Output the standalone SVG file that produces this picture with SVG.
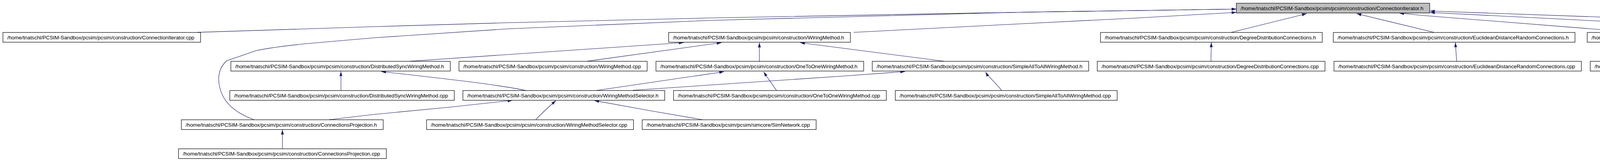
<svg xmlns="http://www.w3.org/2000/svg" width="5800" height="413" viewBox="0 0 5800 413">
<style>
.n rect{fill:#ffffff;stroke:#000000;stroke-width:1.2}
.root rect{fill:#bfbfbf}
text{font-family:"Liberation Sans",Arial,Helvetica,sans-serif;font-size:13.4px;fill:#000000}
#edges path{fill:none;stroke:#191970;stroke-width:1.1;marker-end:url(#arr)}
</style>
<defs>
<marker id="arr" markerUnits="userSpaceOnUse" markerWidth="12" markerHeight="8" viewBox="0 0 12 8" refX="12" refY="4" orient="auto">
<path d="M0,0.3 L12,4 L0,7.7 z" fill="#191970"/>
</marker>
</defs>
<rect width="5800" height="413" fill="#ffffff"/>
<g id="edges">
<path d="M505,83 L960,68.3 L1300,58.3 L1820,46 L2620,31.2 L3165,23.3"/>
<path d="M650,307 C612,293 583,272 570,245 C556,215 554,180 580,156 L657,129.5 C700,121 760,114 807,110 L960,96.7 L1300,74 L1820,52.3 L2620,31.2 L3165,23.3"/>
<path d="M2185,83 L2620,60.7 L2900,46.7 L3165,31.7"/>
<path d="M3152,83 L3345,35"/>
<path d="M3671,83 L3473,35"/>
<path d="M4187,83 L3640,39.5 L3582,33.5"/>
<path d="M5210,83 L3661,28.3"/>
<path d="M4660,83 L4350,68.3 L4160,57.3 L3661,32"/>
<path d="M3100,157 L3101,109"/>
<path d="M3729,157 L3725.7,109"/>
<path d="M4350.7,157 C4347,135 4345,120 4343,109"/>
<path d="M4918,157 C4914,135 4911,120 4909,109"/>
<path d="M5500,157 L5498,109"/>
<path d="M1050,157 L1750,109.3"/>
<path d="M1503,157 L1847,109.5"/>
<path d="M1944,157 L1944,109.5"/>
<path d="M2416,157 L2048.5,109.5"/>
<path d="M873,232 L872.7,183.5"/>
<path d="M1346,232 C1280,218 1150,203 976,183.5"/>
<path d="M1527,232 L1853.3,184"/>
<path d="M1620,231.5 L2160,195 L2317,183.5"/>
<path d="M1987.7,232 C1975,213 1963,197 1955,184.5"/>
<path d="M2564,232 C2550,213 2530,197 2523,184.5"/>
<path d="M843,307 L960,293.3 L1150,275 L1311.7,257.5"/>
<path d="M1371.7,307 C1385,292 1405,274 1423,258"/>
<path d="M1798,307 L1670,285 L1521.7,258"/>
<path d="M723,382 L723,333"/>
</g>
<g id="n0" class="n root"><rect x="3165" y="8.3" width="495" height="25"/><text x="3176" y="25.6" textLength="468" lengthAdjust="spacing">/home/tnatschl/PCSIM-Sandbox/pcsim/pcsim/construction/ConnectionIterator.h</text></g>
<g id="n1" class="n"><rect x="7.5" y="83.3" width="506" height="25"/><text x="18.5" y="100.6" textLength="479" lengthAdjust="spacing">/home/tnatschl/PCSIM-Sandbox/pcsim/pcsim/construction/ConnectionIterator.cpp</text></g>
<g id="n2" class="n"><rect x="1711.7" y="83.3" width="465.3" height="25"/><text x="1722.7" y="100.6" textLength="438.3" lengthAdjust="spacing">/home/tnatschl/PCSIM-Sandbox/pcsim/pcsim/construction/WiringMethod.h</text></g>
<g id="n3" class="n"><rect x="2817.3" y="83.3" width="567.7" height="25"/><text x="2828.3" y="100.6" textLength="540.7" lengthAdjust="spacing">/home/tnatschl/PCSIM-Sandbox/pcsim/pcsim/construction/DegreeDistributionConnections.h</text></g>
<g id="n4" class="n"><rect x="3413.3" y="83.3" width="618.7" height="25"/><text x="3424.3" y="100.6" textLength="591.7" lengthAdjust="spacing">/home/tnatschl/PCSIM-Sandbox/pcsim/pcsim/construction/EuclideanDistanceRandomConnections.h</text></g>
<g id="n5" class="n"><rect x="4063.3" y="83.3" width="551.7" height="25"/><text x="4074.3" y="100.6" textLength="524.7" lengthAdjust="spacing">/home/tnatschl/PCSIM-Sandbox/pcsim/pcsim/construction/PredicateBasedConnections.h</text></g>
<g id="n6" class="n"><rect x="4652" y="83.3" width="508" height="25"/><text x="4663" y="100.6" textLength="481" lengthAdjust="spacing">/home/tnatschl/PCSIM-Sandbox/pcsim/pcsim/construction/RandomConnections.h</text></g>
<g id="n7" class="n"><rect x="5211" y="83.3" width="574" height="25"/><text x="5222" y="100.6" textLength="547" lengthAdjust="spacing">/home/tnatschl/PCSIM-Sandbox/pcsim/pcsim/construction/RandomFixNumberConnections.h</text></g>
<g id="n8" class="n"><rect x="591" y="157.3" width="561.7" height="25"/><text x="602" y="174.6" textLength="534.7" lengthAdjust="spacing">/home/tnatschl/PCSIM-Sandbox/pcsim/pcsim/construction/DistributedSyncWiringMethod.h</text></g>
<g id="n9" class="n"><rect x="1175" y="157.3" width="481.7" height="25"/><text x="1186" y="174.6" textLength="454.7" lengthAdjust="spacing">/home/tnatschl/PCSIM-Sandbox/pcsim/pcsim/construction/WiringMethod.cpp</text></g>
<g id="n10" class="n"><rect x="1679.3" y="157.3" width="531.7" height="25"/><text x="1690.3" y="174.6" textLength="504.7" lengthAdjust="spacing">/home/tnatschl/PCSIM-Sandbox/pcsim/pcsim/construction/OneToOneWiringMethod.h</text></g>
<g id="n11" class="n"><rect x="2233" y="157.3" width="554" height="25"/><text x="2244" y="174.6" textLength="527" lengthAdjust="spacing">/home/tnatschl/PCSIM-Sandbox/pcsim/pcsim/construction/SimpleAllToAllWiringMethod.h</text></g>
<g id="n12" class="n"><rect x="2809" y="157.3" width="583" height="25"/><text x="2820" y="174.6" textLength="556" lengthAdjust="spacing">/home/tnatschl/PCSIM-Sandbox/pcsim/pcsim/construction/DegreeDistributionConnections.cpp</text></g>
<g id="n13" class="n"><rect x="3415" y="157.3" width="633.3" height="25"/><text x="3426" y="174.6" textLength="606.3" lengthAdjust="spacing">/home/tnatschl/PCSIM-Sandbox/pcsim/pcsim/construction/EuclideanDistanceRandomConnections.cpp</text></g>
<g id="n14" class="n"><rect x="4071" y="157.3" width="565" height="25"/><text x="4082" y="174.6" textLength="538" lengthAdjust="spacing">/home/tnatschl/PCSIM-Sandbox/pcsim/pcsim/construction/PredicateBasedConnections.cpp</text></g>
<g id="n15" class="n"><rect x="4660" y="157.3" width="523" height="25"/><text x="4671" y="174.6" textLength="496" lengthAdjust="spacing">/home/tnatschl/PCSIM-Sandbox/pcsim/pcsim/construction/RandomConnections.cpp</text></g>
<g id="n16" class="n"><rect x="5207" y="157.3" width="588" height="25"/><text x="5218" y="174.6" textLength="561" lengthAdjust="spacing">/home/tnatschl/PCSIM-Sandbox/pcsim/pcsim/construction/RandomFixNumberConnections.cpp</text></g>
<g id="n17" class="n"><rect x="588.3" y="232.3" width="574.7" height="25"/><text x="599.3" y="249.6" textLength="547.7" lengthAdjust="spacing">/home/tnatschl/PCSIM-Sandbox/pcsim/pcsim/construction/DistributedSyncWiringMethod.cpp</text></g>
<g id="n18" class="n"><rect x="1185" y="232.3" width="516.7" height="25"/><text x="1196" y="249.6" textLength="489.7" lengthAdjust="spacing">/home/tnatschl/PCSIM-Sandbox/pcsim/pcsim/construction/WiringMethodSelector.h</text></g>
<g id="n19" class="n"><rect x="1724.3" y="232.3" width="544.7" height="25"/><text x="1735.3" y="249.6" textLength="517.7" lengthAdjust="spacing">/home/tnatschl/PCSIM-Sandbox/pcsim/pcsim/construction/OneToOneWiringMethod.cpp</text></g>
<g id="n20" class="n"><rect x="2292" y="232.3" width="568" height="25"/><text x="2303" y="249.6" textLength="541" lengthAdjust="spacing">/home/tnatschl/PCSIM-Sandbox/pcsim/pcsim/construction/SimpleAllToAllWiringMethod.cpp</text></g>
<g id="n21" class="n"><rect x="464.3" y="307.3" width="516.7" height="25"/><text x="475.3" y="324.6" textLength="489.7" lengthAdjust="spacing">/home/tnatschl/PCSIM-Sandbox/pcsim/pcsim/construction/ConnectionsProjection.h</text></g>
<g id="n22" class="n"><rect x="1092" y="307.3" width="529.7" height="25"/><text x="1103" y="324.6" textLength="502.7" lengthAdjust="spacing">/home/tnatschl/PCSIM-Sandbox/pcsim/pcsim/construction/WiringMethodSelector.cpp</text></g>
<g id="n23" class="n"><rect x="1644" y="307.3" width="445.3" height="25"/><text x="1655" y="324.6" textLength="418.3" lengthAdjust="spacing">/home/tnatschl/PCSIM-Sandbox/pcsim/pcsim/simcore/SimNetwork.cpp</text></g>
<g id="n24" class="n"><rect x="457" y="381.7" width="532" height="25"/><text x="468" y="399" textLength="505" lengthAdjust="spacing">/home/tnatschl/PCSIM-Sandbox/pcsim/pcsim/construction/ConnectionsProjection.cpp</text></g>
</svg>
